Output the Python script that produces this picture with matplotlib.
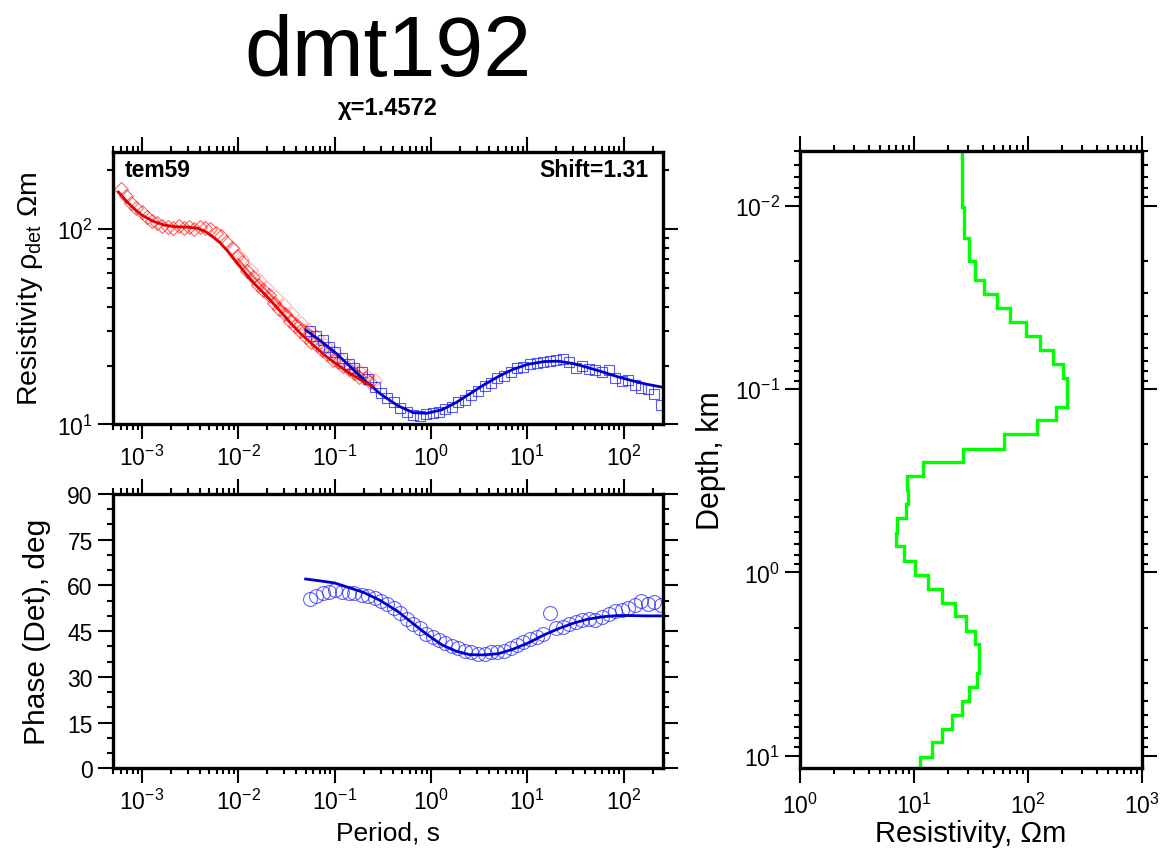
import numpy as np
import matplotlib
matplotlib.use('Agg')
import matplotlib.pyplot as plt
from matplotlib.ticker import MultipleLocator, LogLocator

plt.rcParams['font.family'] = ['Liberation Sans', 'DejaVu Sans']
plt.rcParams['mathtext.fontset'] = 'custom'
plt.rcParams['mathtext.rm'] = 'Liberation Sans'
plt.rcParams['mathtext.default'] = 'regular'

site = 'dmt192'
chi = 'χ=1.4572'
tem_name = 'tem59'
shift_text = 'Shift=1.31'

# TEM apparent resistivity (red diamonds)
tem_T = [6e-4, 6.8e-4, 7.7e-4, 8.7e-4, 9.9e-4, 1.12e-3, 1.27e-3, 1.44e-3, 1.63e-3,
         1.85e-3, 2.1e-3, 2.4e-3, 2.7e-3, 3.1e-3, 3.5e-3, 4.0e-3, 4.5e-3, 5.1e-3,
         5.8e-3, 6.6e-3, 7.5e-3, 8.5e-3, 9.6e-3, 1.09e-2, 1.24e-2, 1.41e-2, 1.6e-2,
         1.82e-2, 2.06e-2, 2.34e-2, 2.66e-2, 3.02e-2, 3.43e-2, 3.9e-2, 4.4e-2, 5.0e-2,
         5.7e-2, 6.5e-2, 7.4e-2, 8.4e-2, 9.5e-2, 0.108, 0.123, 0.14, 0.159, 0.18,
         0.205, 0.233]
tem_rho = [160, 148, 136, 128, 122, 116, 110, 108, 104, 103, 101, 104, 102, 103, 100,
           103, 101, 100, 96, 92, 86, 80, 73, 68, 61, 57, 52, 49, 46, 42, 39, 37, 34,
           32, 30, 28, 26.5, 25.5, 24, 23, 21.5, 21, 20, 19.2, 18.4, 17.6, 17.2, 16.5]

# second (faded) TEM curve
tem2_T = [9.0e-3, 1.1e-2, 1.35e-2, 1.65e-2, 2.0e-2, 2.45e-2, 3.0e-2, 3.65e-2, 4.45e-2,
          5.4e-2, 6.6e-2, 8.0e-2, 9.8e-2, 0.12, 0.145, 0.177, 0.215, 0.26]
tem2_rho = [78, 70, 62, 55, 50, 45, 41, 37, 33, 30.5, 28, 25.5, 23.5, 21.5, 20, 18.8,
            17.8, 16.9]

# TEM model response
tem_mod_T = [5.7e-4, 7e-4, 8.5e-4, 1e-3, 1.3e-3, 1.7e-3, 2.2e-3, 3e-3, 3.8e-3, 4.6e-3,
             5.5e-3, 6.5e-3, 7.8e-3, 9.5e-3, 1.2e-2, 1.5e-2, 2e-2, 2.6e-2, 3.4e-2,
             4.5e-2, 6e-2, 8e-2, 0.11, 0.15, 0.2, 0.25]
tem_mod_rho = [155, 138, 126, 118, 110, 105, 103, 102.5, 101, 97, 91, 85, 77, 68, 59,
               52, 45, 39, 33.5, 29, 25.5, 22.5, 20, 18, 16.6, 15.6]
tem2_mod_T = [1e-2, 1.4e-2, 2e-2, 3e-2, 4.5e-2, 6e-2]
tem2_mod_rho = [70, 58, 48, 39, 33, 29.7]

# MT determinant data
mt_T = [0.055, 0.064, 0.075, 0.088, 0.10, 0.12, 0.14, 0.16, 0.19, 0.22, 0.26, 0.30,
        0.35, 0.41, 0.48, 0.56, 0.65, 0.76, 0.89, 1.04, 1.2, 1.4, 1.65, 1.9, 2.25,
        2.6, 3.05, 3.6, 4.2, 4.9, 5.7, 6.7, 7.8, 9.1, 10.7, 12.5, 14.6, 17, 20, 23.3,
        27.3, 32, 37.3, 43.6, 51, 60, 70, 81, 95, 111, 130, 152, 178, 208, 243]
mt_rho = [30, 28.5, 27, 25, 23.5, 22, 20.5, 19.5, 18.5, 17, 15.5, 14.5, 13.6, 13.0,
          12.2, 11.6, 11.2, 11.0, 11.3, 11.4, 11.6, 12.0, 12.3, 13.0, 13.4, 14.2, 14.8,
          15.8, 16.3, 17.2, 17.8, 18.6, 19.4, 19.8, 20.3, 20.6, 20.9, 21.2, 21.3, 21.7,
          21.0, 19.5, 20.0, 19.2, 19.0, 18.6, 18.9, 17.2, 16.6, 16.8, 15.9, 15.4, 15.2,
          14.3, 12.6]
mt_phase = [55.5, 56.5, 57.5, 58, 58.5, 58, 57.5, 57.5, 57, 56.5, 56, 55, 54, 52.5, 51,
            49, 47.5, 46, 44, 43, 42, 41, 40, 39.5, 38.5, 38, 37.5, 37.5, 38, 38, 38.5,
            39.5, 40.5, 41.5, 42.5, 43, 44, 51, 46, 46.5, 47.5, 48, 48.5, 49, 48.5, 49.5,
            50.5, 51.5, 52, 52.5, 53.5, 55, 54, 54.5, 53.5]

# MT model response
mt_mod_T = [0.05, 0.07, 0.1, 0.15, 0.2, 0.3, 0.45, 0.65, 0.9, 1.3, 1.8, 2.5, 3.5, 5, 7,
            10, 15, 21, 30, 42, 60, 85, 120, 170, 256]
mt_mod_rho = [30.5, 27, 23.5, 19.5, 17, 14.3, 12.5, 11.5, 11.4, 11.9, 12.9, 14.3, 15.9,
              17.6, 19.1, 20.3, 21.0, 21.1, 20.5, 19.6, 18.6, 17.6, 16.8, 16.1, 15.5]
mt_mod_phase = [62.1, 61.5, 60.8, 59, 57.7, 55, 51.5, 47.5, 44, 40.5, 38.5, 37.3, 37.2,
                37.6, 39, 41, 43.8, 45.8, 47.6, 48.9, 49.7, 50.1, 50.1, 50, 50]

# 1D layered model
depth_edges = [0.004, 0.0101, 0.0150, 0.0201, 0.0254, 0.0303, 0.0362, 0.0432, 0.0512,
               0.0612, 0.073, 0.0874, 0.125, 0.148, 0.176, 0.211, 0.250, 0.299, 0.356,
               0.422, 0.503, 0.607, 0.721, 0.867, 1.03, 1.23, 1.47, 1.73, 2.09, 2.47,
               3.53, 4.2, 5.0, 6.0, 7.15, 8.46, 10.2, 14]
layer_rho = [26.5, 27.7, 30.1, 34, 41.4, 53, 69.5, 95.5, 127, 165, 201, 218, 176, 119,
             62, 26.7, 11.9, 8.74, 8.9, 8.5, 7.14, 6.95, 8.17, 10.2, 13.4, 17.7, 22.9,
             28.6, 34.3, 37.4, 35.5, 30.6, 26.2, 21.4, 17.7, 14.3, 11.3]

RED = '#ff0000'
BLUE = '#2020ff'
BLUE_LINE = '#0000cc'
GREEN = '#00ff00'


def style_axes(ax):
    for s in ax.spines.values():
        s.set_linewidth(2.4)
    ax.tick_params(which='both', direction='out', top=True, right=True,
                   labelsize=16.5, width=1.5)
    ax.tick_params(which='major', length=10.5, pad=4)
    ax.tick_params(which='minor', length=4.5)


fig = plt.figure(figsize=(11.66, 8.54), dpi=100)
ax1 = fig.add_axes([0.0969, 0.5018, 0.4717, 0.3196])
ax2 = fig.add_axes([0.0969, 0.0992, 0.4717, 0.3212])
ax3 = fig.add_axes([0.6861, 0.0992, 0.2933, 0.7232])

# resistivity
ax1.plot(tem2_T, tem2_rho, 'D', ms=7.5, mfc='none', mec=RED, mew=0.8, alpha=0.3)
ax1.plot(tem_T, tem_rho, 'D', ms=7.5, mfc='none', mec=RED, mew=0.8, alpha=0.6)
ax1.plot(mt_T, mt_rho, 's', ms=7.5, mfc='none', mec=BLUE, mew=0.8, alpha=0.75)
ax1.plot(mt_mod_T, mt_mod_rho, '-', color=BLUE_LINE, lw=2)
ax1.plot(tem2_mod_T, tem2_mod_rho, '-', color=RED, lw=1.5, alpha=0.6)
ax1.plot(tem_mod_T, tem_mod_rho, '-', color='#e00000', lw=2)
ax1.set_xscale('log')
ax1.set_yscale('log')
ax1.set_xlim(5e-4, 256)
ax1.set_ylim(10, 250)
ax1.set_ylabel('Resistivity ρ$_{\\mathregular{det}}$ Ωm', fontsize=20.5)
ax1.yaxis.set_label_coords(-0.124, 0.5)
ax1.text(0.022, 0.975, tem_name, transform=ax1.transAxes, ha='left', va='top',
         fontsize=16.5, fontweight='bold')
ax1.text(0.973, 0.975, shift_text, transform=ax1.transAxes, ha='right', va='top',
         fontsize=16.5, fontweight='bold')
style_axes(ax1)

# phase
ax2.plot(mt_T, mt_phase, 'o', ms=10, mfc='none', mec=BLUE, mew=0.8, alpha=0.7)
ax2.plot(mt_mod_T, mt_mod_phase, '-', color=BLUE_LINE, lw=2)
ax2.set_xscale('log')
ax2.set_xlim(5e-4, 256)
ax2.set_ylim(0, 90)
ax2.yaxis.set_major_locator(MultipleLocator(15))
ax2.yaxis.set_minor_locator(MultipleLocator(5))
ax2.set_ylabel('Phase (Det), deg', fontsize=21.5)
ax2.yaxis.set_label_coords(-0.112, 0.5)
ax2.set_xlabel('Period, s', fontsize=19)
ax2.xaxis.set_label_coords(0.5, -0.19)
style_axes(ax2)

# model
ax3.stairs(layer_rho, depth_edges, orientation='horizontal', baseline=None,
           color=GREEN, lw=2.4)
ax3.set_xscale('log')
ax3.set_yscale('log')
ax3.set_xlim(1, 1000)
ax3.set_ylim(11.7, 0.005)
ax3.set_xlabel('Resistivity, Ωm', fontsize=21)
ax3.xaxis.set_label_coords(0.5, -0.082)
ax3.set_ylabel('Depth, km', fontsize=22)
ax3.yaxis.set_label_coords(-0.216, 0.5)
style_axes(ax3)
ax3.tick_params(axis='x', which='major', pad=7)

fig.text(388 / 1166, 1 - 54 / 854, site, ha='center', va='center', fontsize=62)
fig.text(388 / 1166, 1 - 108 / 854, chi, ha='center', va='center', fontsize=17,
         fontweight='bold')

fig.savefig('out.png', dpi=100)
